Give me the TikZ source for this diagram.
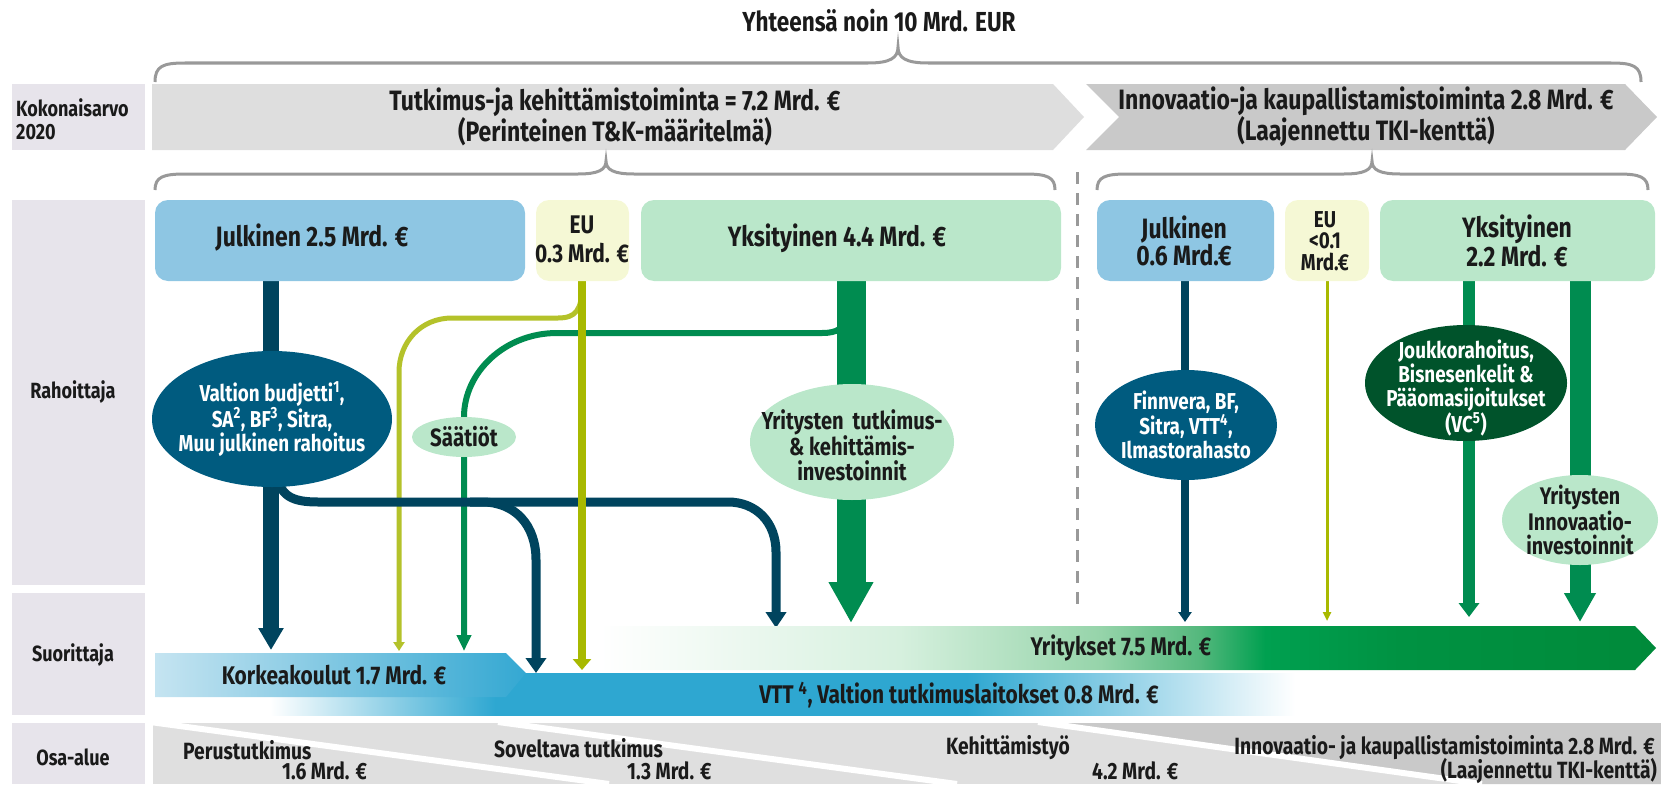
\documentclass[tikz,border=0pt]{standalone}
\usepackage{fontspec}
\setmainfont{Fira Sans}[FakeStretch=0.82]
\usetikzlibrary{arrows.meta,shapes.geometric}
\pgfdeclarelayer{bg}
\pgfsetlayers{bg,main}
\definecolor{labelbg}{RGB}{231,228,235}
\definecolor{hdrA}{RGB}{222,222,222}
\definecolor{hdrB}{RGB}{201,201,201}
\definecolor{bracec}{RGB}{153,153,153}
\definecolor{blueb}{RGB}{142,198,227}
\definecolor{eub}{RGB}{245,248,213}
\definecolor{greenb}{RGB}{186,231,202}
\definecolor{navyc}{RGB}{0,68,94}
\definecolor{ellblue}{RGB}{0,91,127}
\definecolor{yg}{RGB}{168,185,0}
\definecolor{ygl}{RGB}{180,194,42}
\definecolor{grn}{RGB}{0,140,80}
\definecolor{dgrn}{RGB}{0,83,43}
\definecolor{kkl}{RGB}{197,228,241}
\definecolor{kkr}{RGB}{52,168,210}
\definecolor{vttc}{RGB}{46,167,209}
\definecolor{osaA}{RGB}{223,223,223}
\definecolor{osaB}{RGB}{201,201,201}
\definecolor{textc}{RGB}{26,26,26}
\definecolor{yrA}{RGB}{214,240,222}
\definecolor{yrB}{RGB}{150,212,170}
\definecolor{yrC}{RGB}{84,184,125}
\definecolor{yrD}{RGB}{0,160,80}
\definecolor{yrE}{RGB}{0,146,66}
\definecolor{yrF}{RGB}{0,138,58}
\pgfdeclarehorizontalshading{vttshade}{100bp}{color(0bp)=(white); color(25bp)=(white); color(36bp)=(vttc); color(59bp)=(vttc); color(75bp)=(white); color(100bp)=(white)}
\pgfdeclarehorizontalshading{yrshade}{100bp}{color(0bp)=(white); color(25bp)=(white); color(39.2bp)=(yrA); color(48.7bp)=(yrB); color(53.4bp)=(yrC); color(56.5bp)=(yrD); color(62.9bp)=(yrE); color(75bp)=(yrF); color(100bp)=(yrF)}
\newcommand\myfbox{\fontsize{28pt}{25pt}\selectfont}
\newcommand\myfhead{\fontsize{28pt}{29pt}\selectfont}
\newcommand\myfband{\fontsize{25.5pt}{27pt}\selectfont}
\newcommand\myfosa{\fontsize{23.5pt}{24pt}\selectfont}
\newcommand\myflab{\fontsize{22pt}{23pt}\selectfont}
\newcommand\myfell{\fontsize{23pt}{24pt}\selectfont}
\newcommand\myfellg{\fontsize{24.5pt}{24.5pt}\selectfont}
\begin{document}
\begin{tikzpicture}[x=1pt,y=-1pt,
  txt/.style={inner sep=0pt, text=textc, font=\bfseries\myfbox, align=center},
  wtxt/.style={txt, text=white, font=\bfseries\myfell},
  etxt/.style={txt, font=\bfseries\myfellg},
  btxt/.style={txt, font=\bfseries\myfband},
  otxt/.style={txt, font=\bfseries\myfosa},
  box/.style={rounded corners=13pt, inner sep=0pt, draw=none, minimum height=81pt},
  ell/.style={ellipse, inner sep=0pt, draw=none},
  brace/.style={draw=bracec, line width=3pt},
  ]
\useasboundingbox (0,0) rectangle (1661,784);
% label column
\fill[labelbg] (12,84) rectangle (145,150);
\fill[labelbg] (12,200) rectangle (145,585);
\fill[labelbg] (12,593) rectangle (145,715);
\fill[labelbg] (12,723) rectangle (145,784);
\node[txt, font=\bfseries\myflab, anchor=west, align=left] (lk) at (16,119) {Kokonaisarvo\\2020};
\node[txt, font=\bfseries\myflab] (lr) at (73,392) {Rahoittaja};
\node[txt, font=\bfseries\myflab] (ls) at (73,655) {Suorittaja};
\node[txt, font=\bfseries\myflab] (lo) at (73,757) {Osa-alue};
% title and top brace
\node[txt, font=\bfseries\fontsize{27.5pt}{29pt}\selectfont] (title) at (879,21) {Yhteensä noin 10 Mrd. EUR};
\draw[brace] (155,82) .. controls (155,66) and (163,63) .. (185,63) -- (868,63) .. controls (890,63) and (898,58) .. (898,47) .. controls (898,58) and (906,63) .. (928,63) -- (1611,63) .. controls (1633,63) and (1641,66) .. (1641,82);
% header arrows
\fill[hdrA] (152,84) -- (1053,84) -- (1084,117) -- (1053,150) -- (152,150) -- cycle;
\fill[hdrB] (1086,84) -- (1625,84) -- (1657,117) -- (1625,150) -- (1086,150) -- (1119,117) -- cycle;
\node[txt, font=\bfseries\myfhead] (h1) at (615,117) {Tutkimus-ja kehittämistoiminta = 7.2 Mrd. €\\(Perinteinen T\&K-määritelmä)};
\node[txt, font=\bfseries\myfhead] (h2) at (1366,117) {Innovaatio-ja kaupallistamistoiminta 2.8 Mrd. €\\(Laajennettu TKI-kenttä)};
% second braces
\draw[brace] (155,190) .. controls (155,177) and (163,174) .. (185,174) -- (578,174) .. controls (598,174) and (606,170) .. (606,161) .. controls (606,170) and (614,174) .. (634,174) -- (1025,174) .. controls (1047,174) and (1055,177) .. (1055,190);
\draw[brace] (1097,190) .. controls (1097,177) and (1105,174) .. (1127,174) -- (1344,174) .. controls (1364,174) and (1372,170) .. (1372,161) .. controls (1372,170) and (1380,174) .. (1400,174) -- (1618,174) .. controls (1640,174) and (1648,177) .. (1648,190);
\draw[draw=bracec, line width=3pt, dash pattern=on 12pt off 9pt] (1077,172) -- (1077,607);
% funding boxes
\node[box, fill=blueb, minimum width=370pt] (jul1) at (340,240.5) {};
\node[txt] (jul1t) at (312,238) {Julkinen 2.5 Mrd. €};
\node[box, fill=eub, minimum width=93pt] (eu1) at (582.5,240.5) {};
\node[txt, font=\bfseries\fontsize{25.5pt}{29pt}\selectfont] (eu1t) at (582,239) {EU\\0.3 Mrd. €};
\node[box, fill=greenb, minimum width=420pt] (yks1) at (851,240.5) {};
\node[txt] (yks1t) at (837,238) {Yksityinen 4.4 Mrd. €};
\node[box, fill=blueb, minimum width=177pt] (jul2) at (1185.5,240.5) {};
\node[txt] (jul2t) at (1184,241) {Julkinen\\0.6 Mrd.€};
\node[box, fill=eub, minimum width=84pt] (eu2) at (1327,240.5) {};
\node[txt, font=\bfseries\fontsize{23pt}{21.5pt}\selectfont] (eu2t) at (1325,241) {EU\\<0.1\\Mrd.€};
\node[box, fill=greenb, minimum width=275pt] (yks2) at (1517.5,240.5) {};
\node[txt] (yks2t) at (1517,241) {Yksityinen\\2.2 Mrd. €};
% ellipses
\node[ell, fill=ellblue, minimum width=240pt, minimum height=136pt] (valt) at (272,419) {};
\node[wtxt] at (valt) {Valtion budjetti\textsuperscript{1},\\SA\textsuperscript{2}, BF\textsuperscript{3}, Sitra,\\Muu julkinen rahoitus};
\node[ell, fill=greenb, minimum width=104pt, minimum height=40pt] (saat) at (464,437) {};
\node[etxt, font=\bfseries\fontsize{25pt}{24pt}\selectfont] at (saat) {Säätiöt};
\node[ell, fill=greenb, minimum width=204pt, minimum height=116pt] (yrit) at (852,442) {};
\node[etxt] at (852,445) {Yritysten\hspace{4pt} tutkimus-\\\& kehittämis-\\investoinnit};
\node[ell, fill=ellblue, minimum width=182pt, minimum height=110pt] (finn) at (1186,425) {};
\node[wtxt] at (finn) {Finnvera, BF,\\Sitra, VTT\textsuperscript{4},\\Ilmastorahasto};
\node[ell, fill=dgrn, minimum width=202pt, minimum height=116pt] (jouk) at (1466,383) {};
\node[wtxt] at (1466,388) {Joukkorahoitus,\\Bisnesenkelit \&\\Pääomasijoitukset\\(VC\textsuperscript{5})};
\node[ell, fill=greenb, minimum width=156pt, minimum height=90pt] (yinn) at (1580,520) {};
\node[etxt, font=\bfseries\fontsize{24pt}{24pt}\selectfont] at (yinn) {Yritysten\\Innovaatio-\\investoinnit};
% performer bands
\shade[shading=vttshade] (270,673) rectangle (1295,715);
\shade[left color=kkl, right color=kkr] (155,653) -- (506,653) -- (526,673) -- (506,697) -- (155,697) -- cycle;
\shade[shading=yrshade] (600,626) -- (1635,626) -- (1656,648) -- (1635,670) -- (600,670) -- cycle;
\node[btxt] (kk) at (334,675) {Korkeakoulut 1.7 Mrd. €};
\node[btxt] (vtt) at (959,695) {VTT \textsuperscript{4}, Valtion tutkimuslaitokset 0.8 Mrd. €};
\node[btxt] (yr) at (1121,648) {Yritykset 7.5 Mrd. €};
% osa-alue band
\fill[osaA] (153,723) rectangle (1661,784);
\fill[osaB] (1040,723) -- (1661,723) -- (1661,784) -- (1480,784) -- cycle;
\draw[white, line width=6pt] (150,722) -- (609,784);
\draw[white, line width=6pt] (498,722) -- (957,784);
\draw[white, line width=6pt] (1038,722) -- (1482,784);
\node[otxt, anchor=west] (o1) at (183,750) {Perustutkimus};
\node[otxt, anchor=west] (o1b) at (282,771) {1.6 Mrd. €};
\node[otxt, anchor=west] (o2) at (494,748) {Soveltava tutkimus};
\node[otxt, anchor=west] (o2b) at (627,771) {1.3 Mrd. €};
\node[otxt, anchor=west] (o3) at (946,748) {Kehittämistyö};
\node[otxt, anchor=west] (o3b) at (1092,771) {4.2 Mrd. €};
\node[otxt, anchor=east] (o4) at (1655,748) {Innovaatio- ja kaupallistamistoiminta 2.8 Mrd. €};
\node[otxt, anchor=east] (o4b) at (1657,771) {(Laajennettu TKI-kenttä)};
% arrow tip coordinates
\coordinate (tKKa) at (271,650);
\coordinate (tKKb) at (399,651);
\coordinate (tKKc) at (464,651);
\coordinate (tVTTa) at (536,673);
\coordinate (tVTTb) at (582,670);
\coordinate (tYRa) at (776,628);
\coordinate (tYRb) at (851,623);
\coordinate (tYRc) at (1185,622);
\coordinate (tYRd) at (1327,621);
\coordinate (tYRe) at (1469,617);
\coordinate (tYRf) at (1580,622);
% connectors
\begin{pgfonlayer}{bg}
\draw[ygl, line width=5pt, -{Triangle[width=11pt,length=9pt]}] (582,285) .. controls (582,310) and (576,318) .. (558,318) -- (452,318) .. controls (421,318) and (399,342) .. (399,372) -- (tKKb);
\draw[grn, line width=6pt, -{Triangle[width=14pt,length=16pt]}] (845,315) .. controls (845,328) and (838,333) .. (822,333) -- (557,333) .. controls (505,333) and (464,372) .. (464,417) -- (tKKc);
\draw[navyc, line width=16pt, -{Triangle[width=24pt,length=22pt]}] (jul1.south -| tKKa) -- (tKKa);
\draw[navyc, line width=9pt, -{Triangle[width=20pt,length=15pt]}] (277,470) .. controls (278,496) and (292,502) .. (318,502) -- (482,502) .. controls (515,502) and (536,525) .. (536,560) -- (tVTTa);
\draw[navyc, line width=9pt, -{Triangle[width=20pt,length=16pt]}] (470,502) -- (728,502) .. controls (756,502) and (776,522) .. (776,552) -- (tYRa);
\draw[yg, line width=8pt, -{Triangle[width=18pt,length=11pt]}] (eu1.south -| tVTTb) -- (tVTTb);
\draw[grn, line width=29pt, -{Triangle[width=42pt,length=41pt]}] (yks1.south -| tYRb) -- (tYRb);
\draw[navyc, line width=8pt, -{Triangle[width=13pt,length=10pt]}] (jul2.south -| tYRc) -- (tYRc);
\draw[yg, line width=3pt, -{Triangle[width=8pt,length=9pt]}] (eu2.south -| tYRd) -- (tYRd);
\draw[grn, line width=12pt, -{Triangle[width=20pt,length=14pt]}] (yks2.south -| tYRe) -- (tYRe);
\draw[grn, line width=21pt, -{Triangle[width=30pt,length=29pt]}] (yks2.south -| tYRf) -- (tYRf);
\end{pgfonlayer}
\end{tikzpicture}
\end{document}
